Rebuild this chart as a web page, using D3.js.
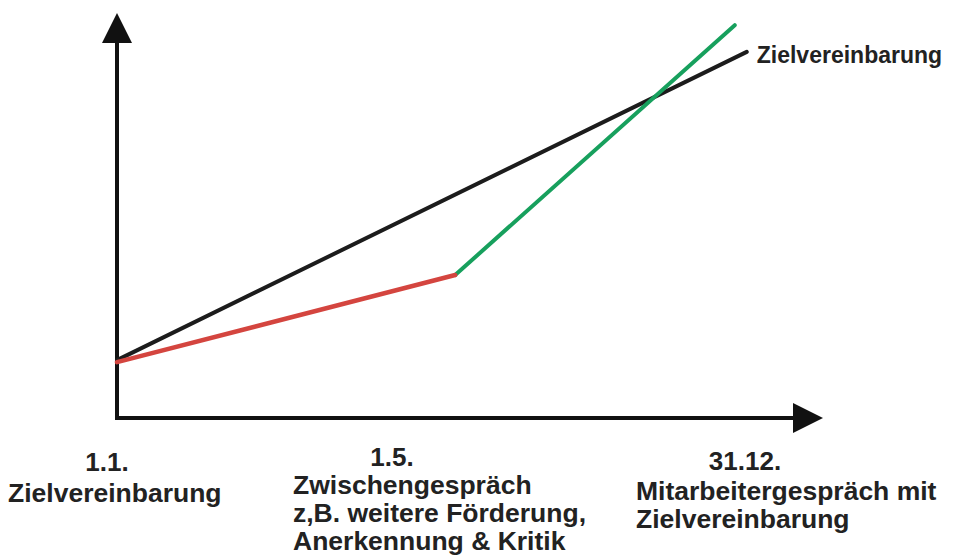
<!DOCTYPE html>
<html>
<head>
<meta charset="utf-8">
<script src="https://cdn.jsdelivr.net/npm/d3@7"></script>
<style>
  body { margin: 0; background: #fff; }
  text { font-family: "Liberation Sans", Arial, sans-serif; font-weight: bold; fill: #222; }
</style>
</head>
<body>
<div id="chart"></div>
<script>
// Verlauf: Zielvereinbarung (Soll) und tatsächlicher Verlauf
const sollLine = [[0, 14.3], [89.2, 90.4]];
const istVorher = [[0, 13.8], [47.9, 35.3]];
const istNachher = [[47.9, 35.3], [87.5, 97.0]];

const endLabel = "Zielvereinbarung";
const dateLabels = ["1.1.", "1.5.", "31.12."];
const noteLines = [
  ["Zielvereinbarung"],
  ["Zwischengespräch", "z,B. weitere Förderung,", "Anerkennung & Kritik"],
  ["Mitarbeitergespräch mit", "Zielvereinbarung"]
];

const W = 973, H = 559;
const svg = d3.select("#chart").append("svg")
    .attr("width", W)
    .attr("height", H);

const x = d3.scaleLinear().domain([0, 100]).range([117, 823]);
const y = d3.scaleLinear().domain([0, 100]).range([418, 13]);

// Achsen mit Pfeilspitzen
const axisG = svg.append("g");
axisG.append("path")
    .attr("d", `M${x(0)},${y(0) + 2}V${y(100) + 28}`)
    .attr("stroke", "#111").attr("stroke-width", 4).attr("fill", "none");
axisG.append("path")
    .attr("d", `M${x(0) - 2},${y(0)}H${x(100) - 28}`)
    .attr("stroke", "#111").attr("stroke-width", 4).attr("fill", "none");
axisG.append("path")
    .attr("d", `M${x(0)},${y(100)}L${x(0) - 15},${y(100) + 30}L${x(0) + 15},${y(100) + 30}Z`)
    .attr("fill", "#111");
axisG.append("path")
    .attr("d", `M${x(100)},${y(0)}L${x(100) - 30},${y(0) - 15}L${x(100) - 30},${y(0) + 15}Z`)
    .attr("fill", "#111");

const line = d3.line().x(d => x(d[0])).y(d => y(d[1]));

svg.append("path").datum(sollLine)
    .attr("d", line).attr("stroke", "#1c1c1c").attr("stroke-width", 4)
    .attr("fill", "none").attr("stroke-linecap", "round");
svg.append("path").datum(istNachher)
    .attr("d", line).attr("stroke", "#17a05d").attr("stroke-width", 4)
    .attr("fill", "none").attr("stroke-linecap", "round");
svg.append("path").datum(istVorher)
    .attr("d", line).attr("stroke", "#d4453f").attr("stroke-width", 4.5)
    .attr("fill", "none").attr("stroke-linecap", "round");

svg.append("text")
    .attr("x", x(sollLine[1][0]) + 10)
    .attr("y", y(sollLine[1][1]) + 11)
    .style("font-size", "23px")
    .text(endLabel);

// Beschriftung unten
const dateX = [107, 392, 745];
const dateY = [471, 466, 470];
const noteX = [8, 293, 636];
const noteY = [502, 494, 500];

svg.selectAll(".date").data(dateLabels).enter().append("text")
    .attr("class", "date")
    .attr("x", (d, i) => dateX[i])
    .attr("y", (d, i) => dateY[i])
    .attr("text-anchor", "middle")
    .style("font-size", "26px")
    .text(d => d);

noteLines.forEach((lines, i) => {
  svg.append("text")
      .attr("x", noteX[i])
      .attr("y", noteY[i])
      .style("font-size", "26.5px")
    .selectAll("tspan").data(lines).enter().append("tspan")
      .attr("x", noteX[i])
      .attr("dy", (d, j) => j === 0 ? 0 : 28)
      .text(d => d);
});
</script>
</body>
</html>
